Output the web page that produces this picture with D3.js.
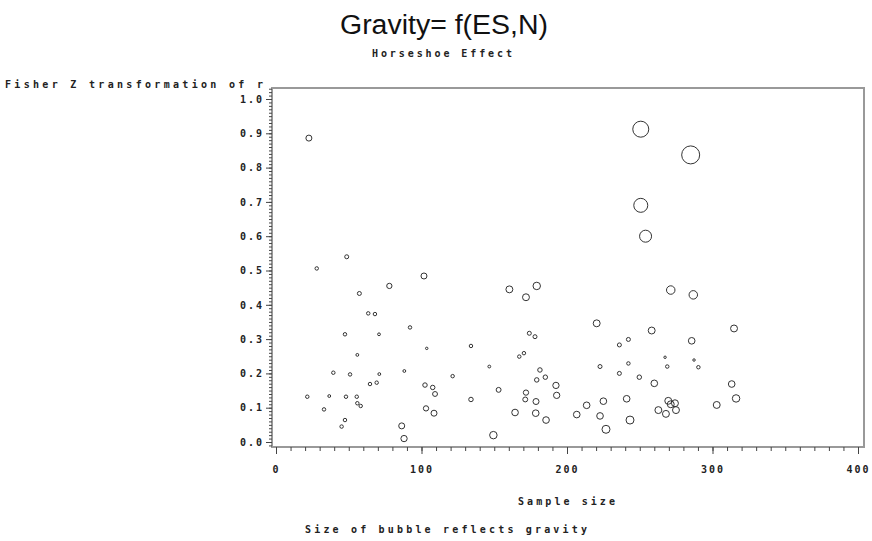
<!DOCTYPE html>
<html>
<head>
<meta charset="utf-8">
<script src="https://cdn.jsdelivr.net/npm/d3@7"></script>
<style>
  body { margin: 0; background: #fff; }
  .sas { font-family: "DejaVu Sans Mono", monospace; font-weight: bold; font-size: 10px; fill: #222; }
  .title { font-family: "Liberation Sans Narrow", "Liberation Sans", Arial, sans-serif; font-size: 27px; fill: #111; }
  .bubble { fill: none; stroke: #333; stroke-width: 1; }
</style>
</head>
<body>
<div id="chart"></div>
<script>
var width = 872;
var height = 541;

// sample size (N)
var sampleSize = [
  22.6, 28.0, 48.6, 101.7, 77.9, 57.3, 63.4, 68.0, 160.4, 171.8,
  179.2, 92.1, 47.4, 70.8, 55.9, 103.6, 134.0, 174.1, 178.0, 167.2,
  170.4, 146.6, 39.4, 50.9, 71.0, 88.2, 121.4, 64.6, 69.2, 102.4,
  107.7, 109.3, 181.4, 179.2, 185.1, 192.4, 192.9, 153.0, 134.0, 171.8,
  171.3, 178.7, 21.5, 36.6, 48.1, 55.5, 55.9, 58.2, 33.0, 47.4,
  45.1, 103.1, 108.6, 86.4, 88.0, 149.4, 164.3, 178.5, 185.6,
  250.7, 285.0, 250.7, 254.0, 271.3, 286.8, 220.4, 258.2, 314.8, 236.0,
  242.2, 285.7, 267.4, 287.3, 222.7, 242.2, 268.9, 290.3, 236.0, 249.7,
  260.0, 313.2, 316.2, 241.0, 225.0, 213.5, 206.7, 222.7, 243.3, 226.8,
  269.6, 274.2, 274.9, 268.0, 262.8, 271.3, 302.9
];

// Fisher Z transformation of r
var fisherZ = [
  0.886, 0.506, 0.540, 0.484, 0.455, 0.433, 0.375, 0.373, 0.445, 0.422,
  0.455, 0.334, 0.314, 0.314, 0.254, 0.273, 0.280, 0.317, 0.307, 0.249,
  0.259, 0.220, 0.202, 0.197, 0.198, 0.207, 0.192, 0.169, 0.173, 0.166,
  0.159, 0.140, 0.210, 0.181, 0.189, 0.165, 0.136, 0.152, 0.124, 0.144,
  0.124, 0.118, 0.132, 0.134, 0.132, 0.132, 0.113, 0.105, 0.095, 0.064,
  0.045, 0.098, 0.084, 0.047, 0.010, 0.020, 0.086, 0.084, 0.064,
  0.912, 0.837, 0.690, 0.600, 0.443, 0.429, 0.346, 0.325, 0.331, 0.283,
  0.299, 0.295, 0.247, 0.239, 0.220, 0.229, 0.220, 0.218, 0.200, 0.189,
  0.171, 0.169, 0.127, 0.126, 0.119, 0.107, 0.080, 0.076, 0.064, 0.037,
  0.120, 0.113, 0.093, 0.082, 0.093, 0.110, 0.108
];

// gravity (bubble size)
var gravity = [
  9, 3, 4, 9, 7, 4, 3, 3, 12, 12,
  14, 3, 3, 2, 2, 1.5, 3, 4, 4, 3,
  3, 2, 3, 3, 2, 2, 3, 3, 3, 5,
  5, 6, 5, 5, 5, 10, 10, 6, 5, 7,
  6, 9, 3, 2, 3, 3, 3, 3, 3, 3,
  3, 7, 9, 9, 10, 14, 11, 11, 11,
  64, 81, 49, 36, 18, 18, 12, 12, 12, 4,
  4, 11, 1.5, 1.5, 4, 3, 3, 3, 4, 5,
  11, 11, 14, 11, 11, 11, 11, 11, 16, 16,
  12, 12, 12, 12, 12, 12, 12
];

var xTicks = [0, 100, 200, 300, 400];
var yTicks = [0, 0.1, 0.2, 0.3, 0.4, 0.5, 0.6, 0.7, 0.8, 0.9, 1.0];

var data = sampleSize.map(function(n, i) {
  return { n: n, z: fisherZ[i], g: gravity[i] };
});

var svg = d3
  .select("#chart")
  .append("svg")
  .attr("width", width)
  .attr("height", height);

var frame = { left: 272, right: 864, top: 88, bottom: 447 };

var x = d3.scaleLinear().domain([0, 400]).range([276, 858]);
var y = d3.scaleLinear().domain([0, 1]).range([442, 99]);
var r = d3.scaleSqrt().domain([0, 64]).range([0, 8]);

// titles
svg.append("text")
  .attr("class", "title")
  .attr("x", 340)
  .attr("y", 34)
  .attr("textLength", 208)
  .attr("lengthAdjust", "spacingAndGlyphs")
  .text("Gravity= f(ES,N)");

svg.append("text")
  .attr("class", "sas")
  .attr("x", 372)
  .attr("y", 57)
  .attr("textLength", 140)
  .attr("lengthAdjust", "spacing")
  .text("Horseshoe Effect");

svg.append("text")
  .attr("class", "sas")
  .attr("x", 5)
  .attr("y", 88)
  .attr("textLength", 258)
  .attr("lengthAdjust", "spacing")
  .text("Fisher Z transformation of r");

// frame
svg.append("rect")
  .attr("x", frame.left)
  .attr("y", frame.top)
  .attr("width", frame.right - frame.left)
  .attr("height", frame.bottom - frame.top)
  .attr("fill", "none")
  .attr("stroke", "#999")
  .attr("stroke-width", 2);

// y axis
var yMinor = svg.append("g")
  .attr("transform", "translate(" + frame.left + ",0)")
  .call(d3.axisLeft(y)
    .tickValues(d3.range(-1, 104).map(function(d) { return d / 100; }))
    .tickSize(3)
    .tickFormat(""));

var yMajor = svg.append("g")
  .attr("transform", "translate(" + frame.left + ",0)")
  .call(d3.axisLeft(y)
    .tickValues(yTicks)
    .tickSize(6)
    .tickPadding(4)
    .tickFormat(d3.format(".1f")));

// x axis
var xMinor = svg.append("g")
  .attr("transform", "translate(0," + frame.bottom + ")")
  .call(d3.axisBottom(x)
    .tickValues(d3.range(0, 401, 10))
    .tickSize(4)
    .tickFormat(""));

var xMajor = svg.append("g")
  .attr("transform", "translate(0," + frame.bottom + ")")
  .call(d3.axisBottom(x)
    .tickValues(xTicks)
    .tickSize(7)
    .tickPadding(16)
    .tickFormat(d3.format("d")));

svg.selectAll(".domain").remove();
svg.selectAll(".tick line").attr("stroke", "#444");
svg.selectAll(".tick text")
  .attr("class", "sas")
  .style("letter-spacing", "2px");
yMajor.selectAll(".tick text").attr("dx", "2px");
xMajor.selectAll(".tick text").attr("dy", "0.3em");

// x labels
svg.append("text")
  .attr("class", "sas")
  .attr("x", 518)
  .attr("y", 505)
  .attr("textLength", 97)
  .attr("lengthAdjust", "spacing")
  .text("Sample size");

svg.append("text")
  .attr("class", "sas")
  .attr("x", 305)
  .attr("y", 533)
  .attr("textLength", 282)
  .attr("lengthAdjust", "spacing")
  .text("Size of bubble reflects gravity");

// bubbles
svg.append("g")
  .selectAll("circle")
  .data(data)
  .enter()
  .append("circle")
  .attr("class", "bubble")
  .attr("cx", function(d) { return x(d.n); })
  .attr("cy", function(d) { return y(d.z); })
  .attr("r", function(d) { return r(d.g); });
</script>
</body>
</html>
